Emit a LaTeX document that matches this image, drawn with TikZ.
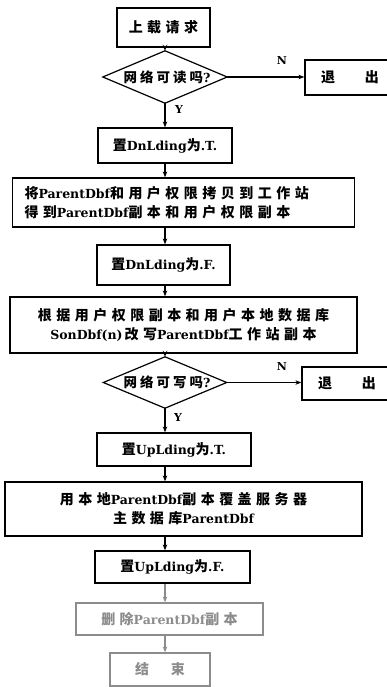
\documentclass[tikz,border=0pt]{standalone}
\usepackage{fontspec}
\setmainfont{DejaVu Serif}
\newfontfamily\cjk{Noto Sans CJK SC}[LetterSpace=32]
\newfontfamily\cjkd{Noto Sans CJK SC}[LetterSpace=22]
\usetikzlibrary{arrows.meta}
\newcommand\zh[1]{{\cjk\bfseries\fontsize{14}{19}\selectfont #1}}
\newcommand\zhd[1]{{\cjkd\bfseries\fontsize{13.5}{19}\selectfont #1}}
\definecolor{fade}{gray}{0.55}
\begin{document}
\begin{tikzpicture}[x=1pt,y=-1pt,
  every node/.style={font=\bfseries\fontsize{12.5}{19}\selectfont},
  box/.style={draw, line width=1.2pt, inner sep=0pt, align=center},
  lbl/.style={inner sep=0pt, font=\bfseries\fontsize{11}{13}\selectfont},
  arr/.style={line width=1.1pt, -{Stealth[length=6pt,width=4.5pt]}},
  dia/.style={line width=1.2pt}]
\useasboundingbox (0,0) rectangle (386,687);
\coordinate (ax) at (165,0);

\node[box, minimum width=93pt, minimum height=39pt] (start) at (163.5,27.5) {\zh{上载请求}};

\node[inner sep=0pt, minimum width=124pt, minimum height=52pt] (d1) at (165,77) {\hspace{4pt}\zhd{网络可读吗}?};
\draw[dia] (d1.west) -- (d1.north) -- (d1.east) -- (d1.south) -- cycle;

\node[box, minimum width=90pt, minimum height=35pt] (x1) at (350,77.5) {\zh{退}\hspace{30pt}\zh{出}};
\node[lbl] (n1) at (282,60) {N};
\node[lbl] (y1) at (179,109) {Y};

\node[box, minimum width=134pt, minimum height=35pt] (t1) at (165,145.5) {\zh{置}DnLding\zh{为}.T.};

\node[box, text width=318pt, inner xsep=12pt, minimum height=49pt, align=left] (cp) at (183.5,202.5)
  {\zh{将}ParentDbf\zh{和用户权限拷贝到工作站}\\\zh{得到}ParentDbf\zh{副本和用户权限副本}};

\node[box, minimum width=133pt, minimum height=40pt] (f1) at (163.5,265) {\zh{置}DnLding\zh{为}.F.};

\node[box, minimum width=347pt, minimum height=56pt] (md) at (183.5,325)
  {\zh{根据用户权限副本和用户本地数据库}\\SonDbf(n)\,\zh{改写}ParentDbf\zh{工作站副本}};

\node[inner sep=0pt, minimum width=123pt, minimum height=51pt] (d2) at (165,382.5) {\hspace{4pt}\zhd{网络可写吗}?};
\draw[dia] (d2.west) -- (d2.north) -- (d2.east) -- (d2.south) -- cycle;

\node[box, minimum width=90pt, minimum height=33pt] (x2) at (347,383.5) {\zh{退}\hspace{30pt}\zh{出}};
\node[lbl] (n2) at (282,366) {N};
\node[lbl] (y2) at (178,417) {Y};

\node[box, minimum width=154pt, minimum height=33pt] (t2) at (174,449.5) {\zh{置}UpLding\zh{为}.T.};

\node[box, minimum width=357pt, minimum height=54pt] (ow) at (183.5,509)
  {\zh{用本地}ParentDbf\zh{副本覆盖服务器}\\\zh{主数据库}ParentDbf};

\node[box, minimum width=155pt, minimum height=32pt] (f2) at (172.5,567) {\zh{置}UpLding\zh{为}.F.};

\node[box, draw=fade, text=fade, minimum width=187pt, minimum height=32pt] (del) at (169.5,619) {\zh{删除}ParentDbf\zh{副本}};

\node[box, draw=fade, text=fade, minimum width=100pt, minimum height=33pt] (end) at (160,669.5) {\zh{结}\hspace{22pt}\zh{束}};

\draw[arr] (start.south -| ax) -- (d1.north -| ax);
\draw[arr] (d1.east) -- (d1.east -| x1.west);
\draw[arr] (d1.south -| ax) -- (t1.north -| ax);
\draw[arr] (t1.south -| ax) -- (cp.north -| ax);
\draw[arr] (cp.south -| ax) -- (f1.north -| ax);
\draw[arr] (f1.south -| ax) -- (md.north -| ax);
\draw[arr] (md.south -| ax) -- (d2.north -| ax);
\draw[arr] (d2.east) -- (d2.east -| x2.west);
\draw[arr] (d2.south -| ax) -- (t2.north -| ax);
\draw[arr] (t2.south -| ax) -- (ow.north -| ax);
\draw[arr] (ow.south -| ax) -- (f2.north -| ax);
\draw[arr, draw=fade, fill=fade] (f2.south -| ax) -- (del.north -| ax);
\draw[arr, draw=fade, fill=fade] (del.south -| ax) -- (end.north -| ax);
\end{tikzpicture}
\end{document}
